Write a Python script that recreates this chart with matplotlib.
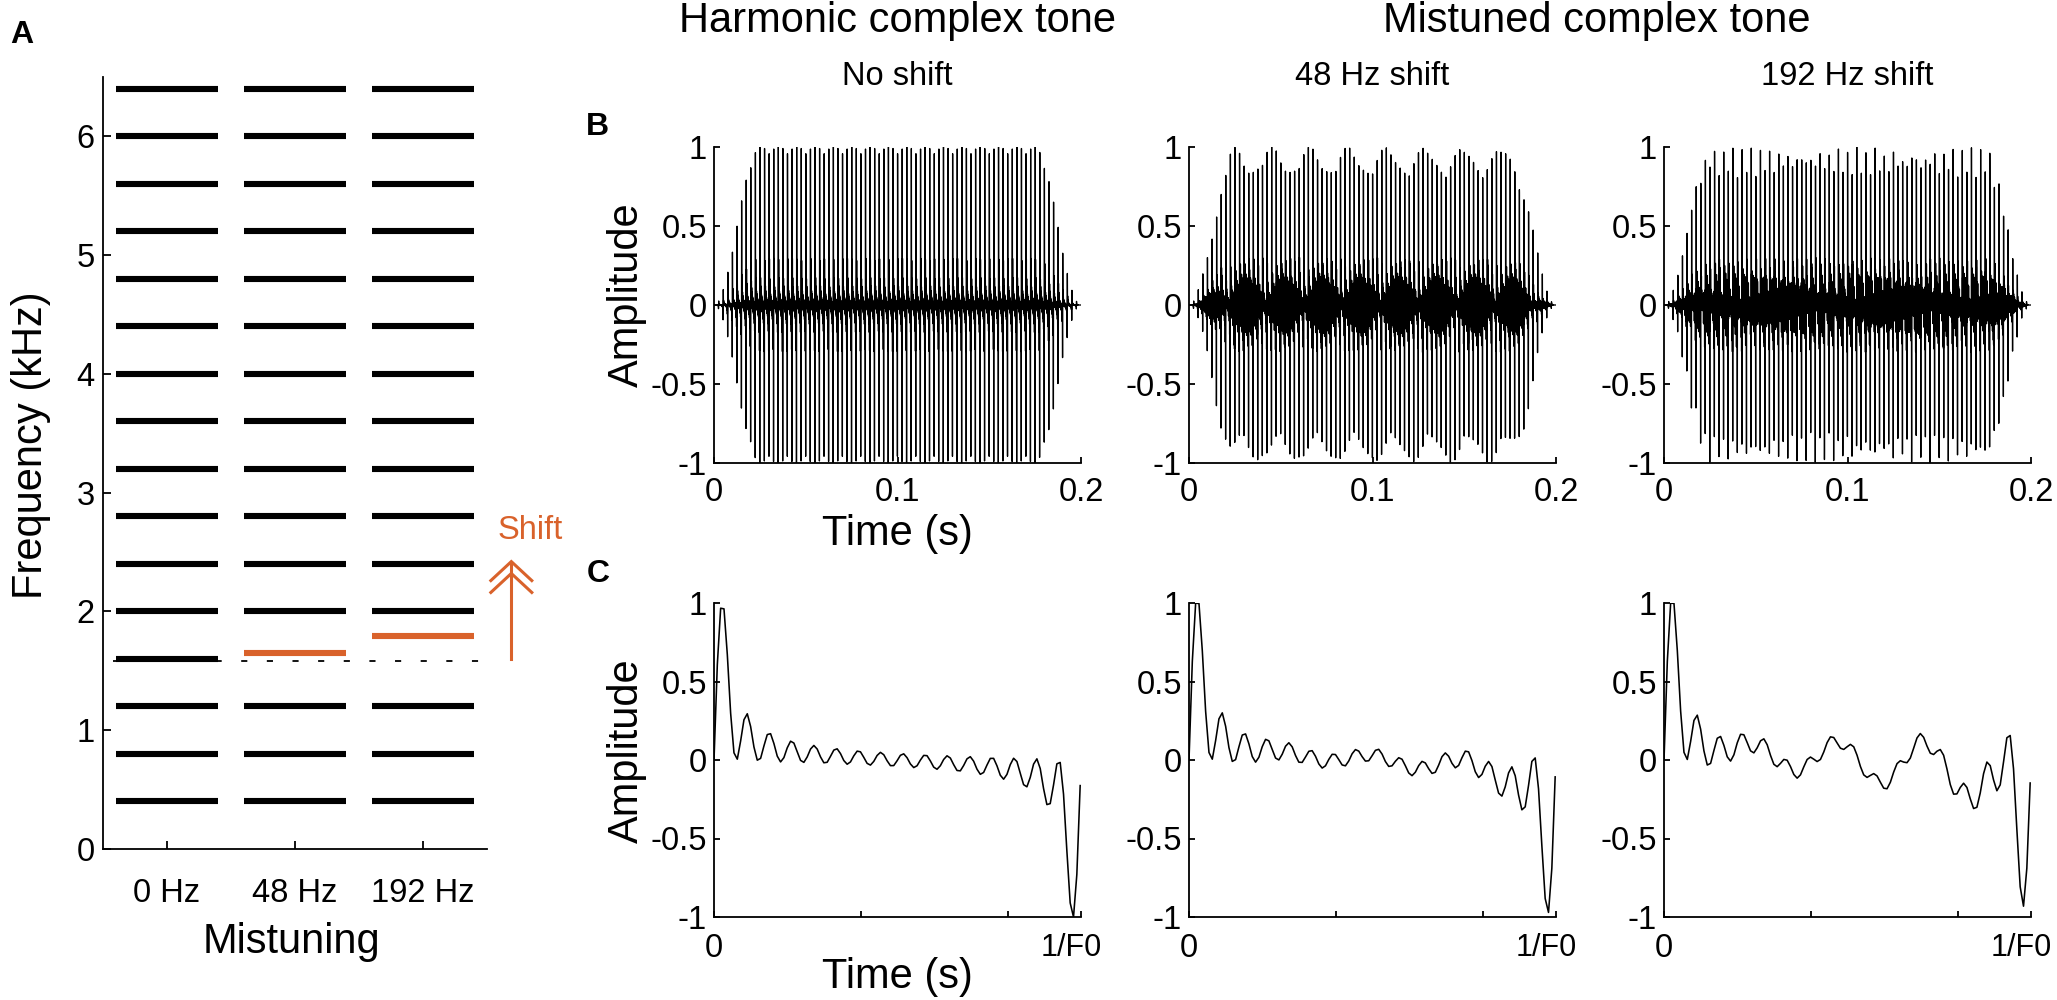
import numpy as np
import matplotlib
matplotlib.use('Agg')
import matplotlib.pyplot as plt
import matplotlib.transforms as mtransforms

plt.rcParams['font.family'] = ['Liberation Sans', 'DejaVu Sans']
plt.rcParams['axes.unicode_minus'] = False

# ---- stimulus parameters (the data behind every panel) ----
f0 = 400.0                          # Hz
harmonic_numbers = np.arange(1, 17)  # 16 harmonics, 0.4 - 6.4 kHz
mistuned_harmonic = 4               # 1.6 kHz component is shifted
shifts_hz = [0, 48, 192]
shift_labels = ['0 Hz', '48 Hz', '192 Hz']
panel_titles = ['No shift', '48 Hz shift', '192 Hz shift']
fs = 44100
duration = 0.2      # s
ramp_dur = 0.025    # s, raised cosine on/off

orange = '#D9622B'
W, H = 2057, 1000
TICK_FS = 23.5
LABEL_FS = 30


def complex_tone(t, shift):
    freqs = f0 * harmonic_numbers.astype(float)
    freqs[mistuned_harmonic - 1] += shift
    return np.sin(2 * np.pi * np.outer(t, freqs)).sum(axis=1)


t_long = np.arange(int(round(duration * fs))) / fs
n_ramp = int(round(ramp_dur * fs))
ramp = np.sin(np.linspace(0, np.pi / 2, n_ramp)) ** 2
env = np.ones_like(t_long)
env[:n_ramp] = ramp
env[-n_ramp:] = ramp[::-1]
t_period = np.arange(int(fs / f0) + 1) / fs

fig = plt.figure(figsize=(W / 100, H / 100), dpi=100)


def px_axes(left, top, right, bottom):
    return fig.add_axes([left / W, 1 - bottom / H, (right - left) / W, (bottom - top) / H])


def style(ax, ticklen, xpad, ypad):
    for s in ['top', 'right']:
        ax.spines[s].set_visible(False)
    for s in ['left', 'bottom']:
        ax.spines[s].set_linewidth(1.3)
    ax.tick_params(direction='in', length=ticklen, width=1.3, labelsize=TICK_FS)
    ax.tick_params(axis='x', pad=xpad)
    ax.tick_params(axis='y', pad=ypad)


# ---- panel A: harmonic spectrum schematic ----
axA = px_axes(103, 77, 487, 849)
for i, shift in enumerate(shifts_hz):
    freqs = f0 * harmonic_numbers.astype(float)
    freqs[mistuned_harmonic - 1] += shift
    cols = ['k'] * len(freqs)
    if shift > 0:
        cols[mistuned_harmonic - 1] = orange
    axA.hlines(freqs / 1000, i + 1 - 0.4, i + 1 + 0.4, colors=cols, lw=4.4)

ref_khz = f0 * mistuned_harmonic / 1000
axA.plot([0.58, 3.54], [ref_khz - 0.015, ref_khz - 0.015], color='k', lw=1.3,
         ls=(0, (3.4, 10.8)), clip_on=False, zorder=1)

# shift arrow with double chevron head
ax_x = 3.69
tip = 2.42
axA.plot([ax_x, ax_x], [ref_khz, tip - 0.02], color=orange, lw=2.2, clip_on=False)
for apex in [tip, tip - 0.1]:
    axA.plot([ax_x - 0.16, ax_x, ax_x + 0.16], [apex - 0.16, apex, apex - 0.16],
             color=orange, lw=2.2, clip_on=False, solid_joinstyle='miter')
axA.text(3.84, 2.68, 'Shift', color=orange, fontsize=23.5, ha='center', va='center',
         clip_on=False)

axA.set_xlim(0.5, 3.5)
axA.set_ylim(0, 6.5)
axA.set_xticks([1, 2, 3])
axA.set_xticklabels(shift_labels)
axA.set_yticks(range(0, 7))
style(axA, 6, 21, 6)
axA.set_xlabel('Mistuning', fontsize=LABEL_FS)
axA.xaxis.label.set_va('baseline')
axA.xaxis.set_label_coords(0.492, -0.135)
axA.set_ylabel('Frequency (kHz)', fontsize=LABEL_FS)
axA.yaxis.label.set_va('baseline')
axA.yaxis.set_label_coords(-0.159, 0.523)

# ---- panels B and C ----
col_left = [714, 1189, 1664]
col_w = 367
for i, shift in enumerate(shifts_hz):
    x0 = col_left[i]
    axB = px_axes(x0, 147, x0 + col_w, 463)
    sig = complex_tone(t_long, shift) * env
    sig = sig / np.abs(sig).max()
    axB.plot(t_long, sig, color='k', lw=0.95)
    axB.set_xlim(0, duration)
    axB.set_ylim(-1, 1)
    axB.set_xticks([0, 0.1, 0.2])
    axB.set_xticklabels(['0', '0.1', '0.2'])
    axB.set_yticks([-1, -0.5, 0, 0.5, 1])
    axB.set_yticklabels(['-1', '-0.5', '0', '0.5', '1'])
    style(axB, 4, 10, 5)
    if i == 0:
        axB.set_ylabel('Amplitude', fontsize=LABEL_FS)
        axB.yaxis.label.set_va('baseline')
        axB.yaxis.set_label_coords(-0.207, 0.532)
        axB.set_xlabel('Time (s)', fontsize=LABEL_FS)
        axB.xaxis.label.set_va('baseline')
        axB.xaxis.set_label_coords(0.5, -0.259)
    fig.text((x0 + col_w / 2) / W, 1 - 85 / H, panel_titles[i], fontsize=23.5,
             ha='center', va='baseline')

    axC = px_axes(x0, 603, x0 + col_w, 917)
    per = complex_tone(t_period, shift)
    per = per / np.abs(per).max()
    axC.plot(t_period, per, color='k', lw=1.15)
    axC.set_xlim(0, 1 / f0)
    axC.set_ylim(-1, 1)
    axC.set_xticks([0, 0.001, 0.002, 1 / f0])
    axC.set_xticklabels(['0', '', '', '1/F0'])
    axC.set_yticks([-1, -0.5, 0, 0.5, 1])
    axC.set_yticklabels(['-1', '-0.5', '0', '0.5', '1'])
    style(axC, 4, 11.5, 5)
    end_lbl = axC.get_xticklabels()[-1]
    end_lbl.set_fontsize(22)
    end_lbl.set_transform(end_lbl.get_transform() +
                          mtransforms.ScaledTranslation(-10 / 100, 0, fig.dpi_scale_trans))
    if i == 0:
        axC.set_ylabel('Amplitude', fontsize=LABEL_FS)
        axC.yaxis.label.set_va('baseline')
        axC.yaxis.set_label_coords(-0.207, 0.529)
        axC.set_xlabel('Time (s)', fontsize=LABEL_FS)
        axC.xaxis.label.set_va('baseline')
        axC.xaxis.set_label_coords(0.5, -0.226)

# ---- headings and panel letters ----
fig.text((col_left[0] + col_w / 2) / W, 1 - 32 / H, 'Harmonic complex tone',
         fontsize=30, ha='center', va='baseline')
fig.text(1597 / W, 1 - 32 / H, 'Mistuned complex tone',
         fontsize=30, ha='center', va='baseline')
fig.text(10 / W, 1 - 43 / H, 'A', fontsize=23, fontweight='bold', va='baseline')
fig.text(586 / W, 1 - 135 / H, 'B', fontsize=23, fontweight='bold', va='baseline')
fig.text(587 / W, 1 - 582 / H, 'C', fontsize=23, fontweight='bold', va='baseline')

fig.savefig('out.png', dpi=100)
